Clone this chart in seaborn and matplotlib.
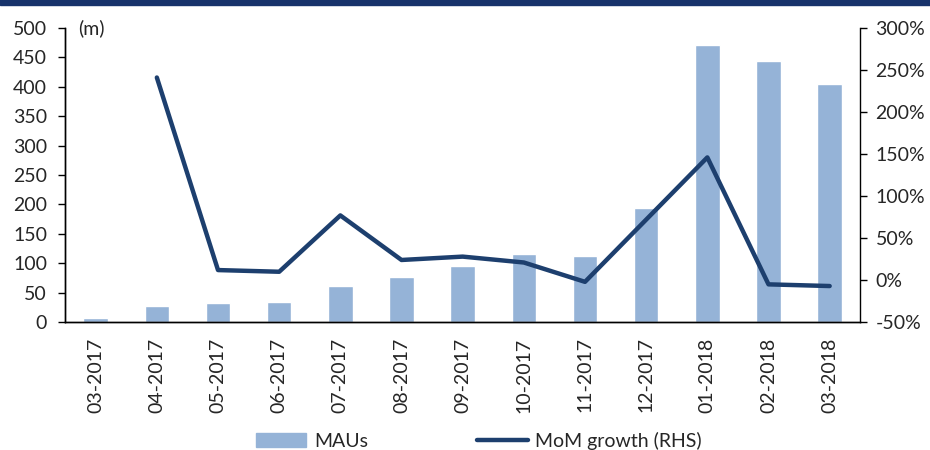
import numpy as np
import pandas as pd
import seaborn as sns
import matplotlib.pyplot as plt
from matplotlib.patches import Rectangle
from matplotlib.lines import Line2D
from matplotlib.ticker import FuncFormatter, FixedLocator

months = ['03-2017', '04-2017', '05-2017', '06-2017', '07-2017', '08-2017', '09-2017',
          '10-2017', '11-2017', '12-2017', '01-2018', '02-2018', '03-2018']
maus = [7, 28, 32, 35, 62, 76, 96, 116, 112, 194, 471, 444, 404]
mom_growth = [np.nan, 241, 12, 10, 77, 24, 28, 21, -2, 72, 146, -5, -7]

bar_color = '#95b3d7'
line_color = '#1d3f6e'

sns.set_style('white')
plt.rcParams['font.family'] = ['Lato', 'DejaVu Sans']

df = pd.DataFrame({'month': months, 'maus': maus, 'growth': mom_growth, 'pos': range(len(months))})

fig = plt.figure(figsize=(9.3, 4.5), dpi=100)
ax = fig.add_axes([0.070, 0.284, 0.855, 0.654])

# title band, cut off at the top of the picture
fig.patches.append(Rectangle((0, 0.989), 1, 0.02, transform=fig.transFigure,
                             color='#17336b', zorder=0))

sns.barplot(data=df, x='month', y='maus', color=bar_color, width=0.4,
            saturation=1, ax=ax)
ax.set_ylim(0, 500)
ax.set_xlim(-0.5, len(months) - 0.5)
ax.set_yticks(range(0, 501, 50))
ax.set_xlabel('')
ax.set_ylabel('')

ax2 = ax.twinx()
sns.lineplot(data=df.dropna(), x='pos', y='growth', color=line_color, linewidth=3.2,
             ax=ax2, solid_capstyle='round')
ax2.set_ylim(-50, 300)
ax2.set_yticks(range(-50, 301, 50))
ax2.yaxis.set_major_formatter(FuncFormatter(lambda v, p: f'{v:.0f}%'))
ax2.set_ylabel('')
ax2.set_xlabel('')

# category labels in the middle, tick marks on the boundaries
ax.set_xticks(range(len(months)))
ax.set_xticklabels(months, rotation=90)
ax.xaxis.set_minor_locator(FixedLocator(np.arange(-0.5, len(months), 1)))
ax.tick_params(axis='x', which='major', length=0, pad=11, labelsize=14)
ax.tick_params(axis='x', which='minor', length=5, width=1, color='black', direction='out')
ax.tick_params(axis='y', length=5, width=1, color='black', direction='out', labelsize=14, pad=8)
ax2.tick_params(axis='y', length=5, width=1, color='black', direction='out', labelsize=14, pad=6)

for a in (ax, ax2):
    a.spines['top'].set_visible(False)
    for s in ('left', 'right', 'bottom'):
        a.spines[s].set_color('black')
        a.spines[s].set_linewidth(1)
ax.spines['right'].set_visible(False)

ax.text(0.016, 1.0, '(m)', transform=ax.transAxes, fontsize=14, va='center')

handles = [Rectangle((0, 0), 1, 1, color=bar_color),
           Line2D([0], [0], color=line_color, linewidth=3.2)]
fig.legend(handles, ['MAUs', 'MoM growth (RHS)'], loc='center',
           bbox_to_anchor=(0.515, 0.02), ncol=2, frameon=False, fontsize=14,
           handlelength=2.6, handletextpad=0.4, columnspacing=5.6)

fig.savefig('out.png', dpi=100)
